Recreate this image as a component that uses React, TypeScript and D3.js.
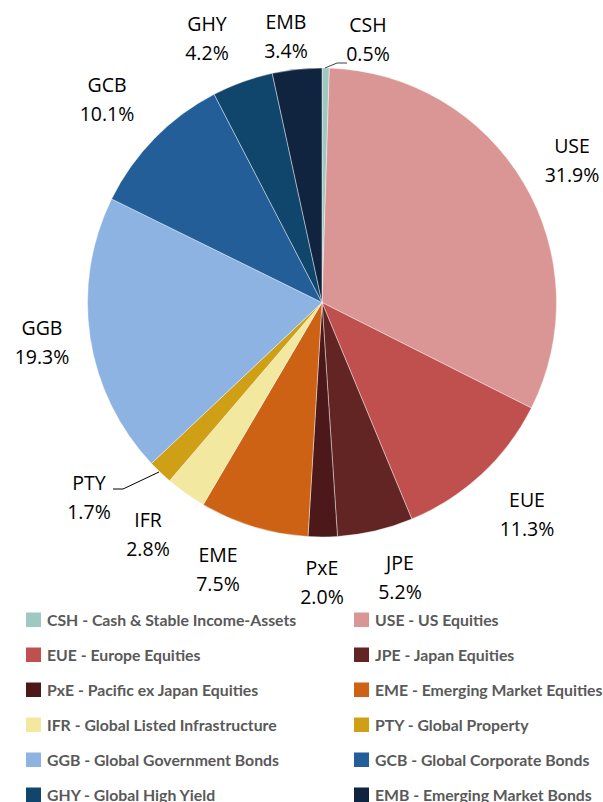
import React from "react";
import * as d3 from "d3";

const codes = ["CSH", "USE", "EUE", "JPE", "PxE", "EME", "IFR", "PTY", "GGB", "GCB", "GHY", "EMB"];
const values = [0.5, 31.9, 11.3, 5.2, 2.0, 7.5, 2.8, 1.7, 19.3, 10.1, 4.2, 3.4];
const names = [
  "Cash & Stable Income-Assets",
  "US Equities",
  "Europe Equities",
  "Japan Equities",
  "Pacific ex Japan Equities",
  "Emerging Market Equities",
  "Global Listed Infrastructure",
  "Global Property",
  "Global Government Bonds",
  "Global Corporate Bonds",
  "Global High Yield",
  "Emerging Market Bonds",
];
const colors = [
  "#9dc9c2", "#da9694", "#c0504d", "#632523", "#4c1819", "#cd6114",
  "#f3e89f", "#cf9f15", "#8db3e2", "#235e98", "#10466c", "#10243f",
];
// label anchor positions (centres) for the two-line labels
const labelPos: [number, number][] = [
  [368, 25], [572, 146], [527, 500], [400, 563], [322, 568], [218, 555],
  [148, 520], [89, 483], [42, 328], [107, 85], [207, 24], [286, 22],
];

export default function App() {
  const W = 603, H = 802;
  const cx = 322, cy = 302.5, r = 234.5;
  const pie = d3.pie<number>().sort(null).value((d) => d);
  const arcs = pie(values);
  const arc = d3.arc<d3.PieArcDatum<number>>().innerRadius(0).outerRadius(r);
  const labelFont = "'Open Sans', 'Liberation Sans', sans-serif";
  const legendFont = "Lato, 'Open Sans', sans-serif";

  const legendRows = d3.range(Math.ceil(codes.length / 2));
  const ly = d3.scalePoint<number>().domain(legendRows).range([620, 795]);
  const lx = d3.scalePoint<number>().domain([0, 1]).range([26, 354]);

  return (
    <svg width={W} height={H} style={{ position: "absolute", left: 0, top: 0, background: "#fff" }}>
      <g transform={`translate(${cx},${cy})`}>
        {arcs.map((a, i) => (
          <path key={i} d={arc(a) || ""} fill={colors[i]} stroke="#ffffff" strokeOpacity={0.6} strokeWidth={0.7} />
        ))}
      </g>
      {/* leader lines */}
      <polyline points="325,68 337,63 347,63" fill="none" stroke="#404040" strokeWidth={1} />
      <polyline points="159,472 123,489 113,489" fill="none" stroke="#000" strokeWidth={1} />
      {codes.map((c, i) => (
        <text key={c} x={labelPos[i][0]} y={labelPos[i][1]} textAnchor="middle" fontFamily={labelFont} fontSize={19.5} fill="#000">
          <tspan x={labelPos[i][0]} dy="0.36em">{c}</tspan>
          <tspan x={labelPos[i][0]} dy="1.5em">{values[i].toFixed(1)}%</tspan>
        </text>
      ))}
      {codes.map((c, i) => {
        const row = Math.floor(i / 2), col = i % 2;
        const x = lx(col)!, y = ly(row)!;
        return (
          <g key={"l" + c}>
            <rect x={x} y={y - 7.5} width={15} height={14.5} fill={colors[i]} />
            <text x={x + 21} y={y} dy="0.36em" fontFamily={legendFont} fontWeight={700} fontSize={15.8} fill="#595959">
              {c} - {names[i]}
            </text>
          </g>
        );
      })}
    </svg>
  );
}
